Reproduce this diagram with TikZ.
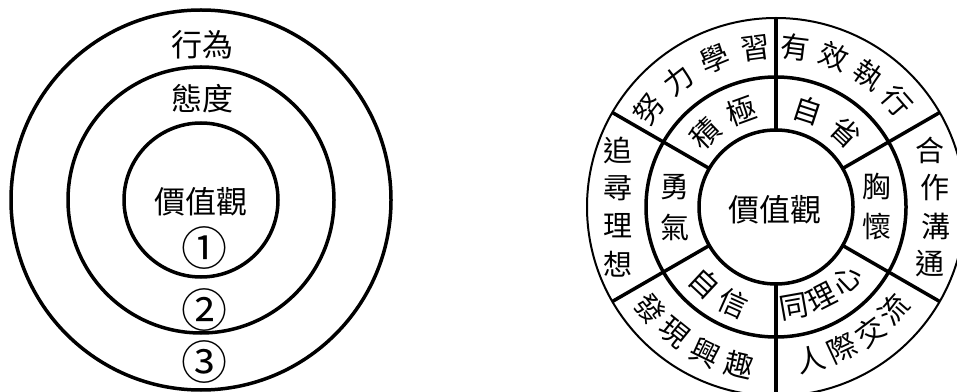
\documentclass[tikz,border=0pt]{standalone}
\usepackage{fontspec}
\newfontfamily\cjk{Noto Sans CJK TC}
\tikzset{
  ring/.style={line width=3.5pt},
  rim/.style={line width=2pt},
  bigtxt/.style={font=\cjk\fontsize{31}{31}\selectfont, inner sep=0pt},
  numtxt/.style={font=\cjk\fontsize{46}{46}\selectfont, inner sep=0pt},
  ringtxt/.style={font=\cjk\fontsize{29}{29}\selectfont, inner sep=0pt},
}
\begin{document}
\begin{tikzpicture}[x=1pt,y=1pt]
        \clip (0,0) rectangle (957,391);
        \coordinate (L) at (201,191);
        \coordinate (R) at (776,184);

        % Left: layers
        \draw[ring] (L) circle (190);
        \draw[ring] (L) circle (133);
        \draw[ring] (L) circle (77);
        \node[bigtxt] (act) at (202,346) {行為};
        \node[bigtxt] (attitude) at (202,292) {態度};
        \node[bigtxt] (valueL) at (201,189) {價值觀};
        \node[numtxt] (one) at (204,143) {①};
        \node[numtxt] (two) at (204,81) {②};
        \node[numtxt] (three) at (204,29) {③};

        % Right: wheel
        \draw[rim] (R) circle (189);
        \draw[ring] (R) circle (130);
        \draw[ring] (R) circle (77);
        \foreach \a in {30,90,...,330}
            \draw[ring, shift={(R)}] (\a:77) -- (\a:189);
        \node[bigtxt] (valueR) at (775,181) {價值觀};

        \begin{scope}[shift={(R)}]
            % Outer ring
            \foreach \a/\c [count=\i] in {142.5/努,127.5/力,112.5/學,97.5/習}
                \node[ringtxt, rotate=\a-90] (study\i) at (\a:160) {\c};
            \foreach \a/\c [count=\i] in {83/有,69/效,55/執,41/行}
                \node[ringtxt, rotate=\a-90] (exec\i) at (\a:161) {\c};
            \foreach \a/\c [count=\i] in {219/發,231/現,244/興,257/趣}
                \node[ringtxt, rotate=\a+90] (interest\i) at (\a:162) {\c};
            \foreach \a/\c [count=\i] in {283/人,295/際,307/交,319/流}
                \node[ringtxt, rotate=\a+90] (social\i) at (\a:156) {\c};
            \foreach \y/\c [count=\i] in {57/追,19/尋,-19/理,-57/想}
                \node[ringtxt] (dream\i) at (-158,\y) {\c};
            \foreach \x/\y/\c [count=\i] in {154/57/合,159/19/作,160/-19/溝,154/-57/通}
                \node[ringtxt] (team\i) at (\x,\y) {\c};

            % Inner ring
            \foreach \a/\c [count=\i] in {134/積,110/極}
                \node[ringtxt, rotate=\a-90] (active\i) at (\a:102) {\c};
            \foreach \a/\c [count=\i] in {72/自,47/省}
                \node[ringtxt, rotate=\a-90] (reflect\i) at (\a:102) {\c};
            \foreach \a/\c [count=\i] in {227/自,246/信}
                \node[ringtxt, rotate=\a+90] (confid\i) at (\a:105) {\c};
            \foreach \a/\c [count=\i] in {280/同,297/理,314/心}
                \node[ringtxt, rotate=\a+90] (empathy\i) at (\a:101) {\c};
            \foreach \y/\c [count=\i] in {20/勇,-20/氣}
                \node[ringtxt] (courage\i) at (-101,\y) {\c};
            \foreach \y/\c [count=\i] in {20/胸,-20/懷}
                \node[ringtxt] (mind\i) at (101,\y) {\c};
        \end{scope}
    \end{tikzpicture}
\end{document}
